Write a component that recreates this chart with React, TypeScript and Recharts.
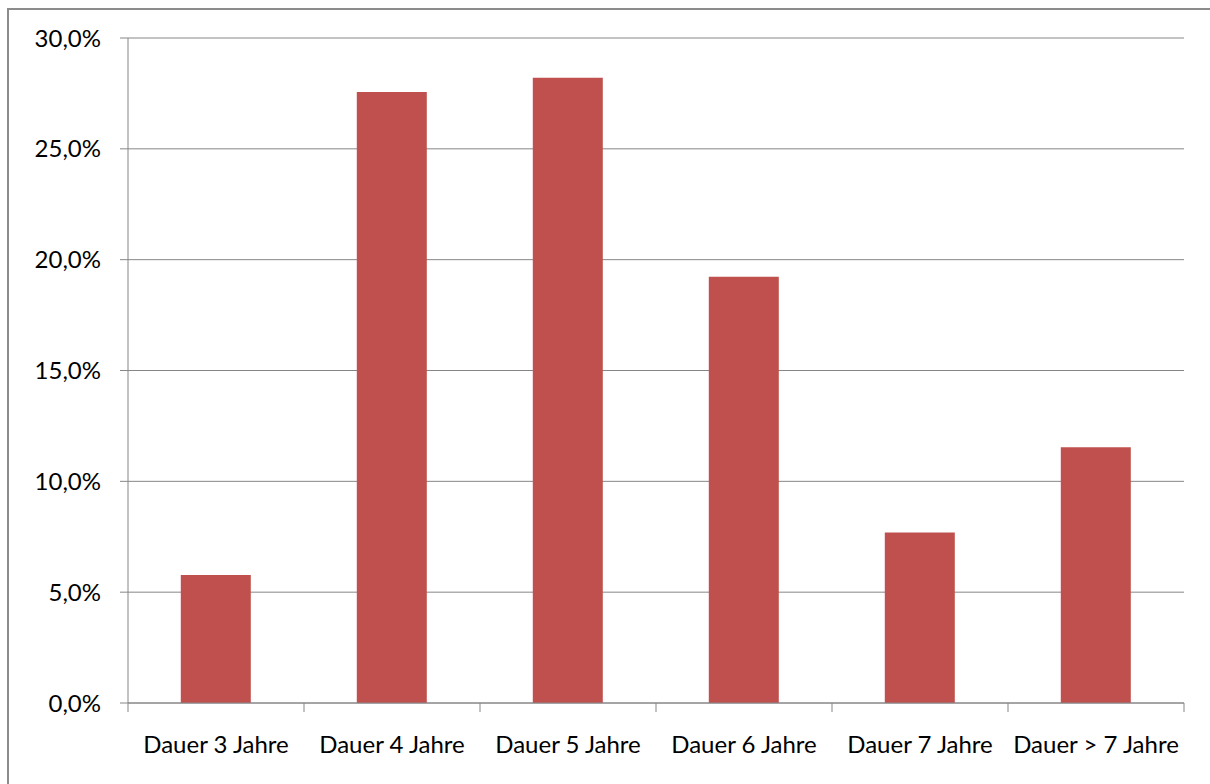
import React from 'react';
import { BarChart, Bar, XAxis, YAxis, CartesianGrid } from 'recharts';

const categories = ['Dauer 3 Jahre', 'Dauer 4 Jahre', 'Dauer 5 Jahre', 'Dauer 6 Jahre', 'Dauer 7 Jahre', 'Dauer > 7 Jahre'];
const shares = [5.77, 27.56, 28.21, 19.23, 7.69, 11.54];
const yTicks = [0, 5, 10, 15, 20, 25, 30];

const data = categories.map((name, i) => ({ name, value: shares[i] }));

const FONT = 'Lato, "Open Sans", sans-serif';
const AXIS = '#868686';
const X_TICK_SIZE = 9;
const X_TICK_MARGIN = 24;

const fmt = (v: number) => v.toFixed(1).replace('.', ',') + '%';

const CategoryTick = (props: any) => {
  const { x, y, payload, index, visibleTicksCount } = props;
  const half = payload && payload.offset ? payload.offset : 0;
  const axisY = y - X_TICK_SIZE - X_TICK_MARGIN;
  const left = x - half;
  const right = x + half;
  return (
    <g>
      <line x1={left} x2={left} y1={axisY} y2={axisY + X_TICK_SIZE} stroke={AXIS} />
      {index === visibleTicksCount - 1 && (
        <line x1={right} x2={right} y1={axisY} y2={axisY + X_TICK_SIZE} stroke={AXIS} />
      )}
      <text x={x} y={y} dy="0.71em" textAnchor="middle" fill="#000" fontSize={24} fontFamily={FONT}>
        {payload.value}
      </text>
    </g>
  );
};

export default function App() {
  return (
    <div style={{ position: 'absolute', left: 0, top: 0, width: 1210, height: 784, overflow: 'hidden', background: '#fff' }}>
      <div style={{ position: 'absolute', left: 7, top: 8, width: 1400, height: 1000, border: '2px solid #8c8c8c', boxSizing: 'border-box' }} />
      <div style={{ position: 'absolute', left: 0, top: 0 }}>
        <BarChart width={1210} height={784} data={data} margin={{ top: 38, right: 26, bottom: 31, left: 28 }} barCategoryGap="30%">
          <CartesianGrid vertical={false} stroke={AXIS} strokeWidth={1} />
          <XAxis
            dataKey="name"
            height={50}
            axisLine={{ stroke: AXIS }}
            tickLine={false}
            tickSize={X_TICK_SIZE}
            tickMargin={X_TICK_MARGIN}
            interval={0}
            tick={<CategoryTick />}
          />
          <YAxis
            width={100}
            domain={[0, 30]}
            ticks={yTicks}
            tickFormatter={fmt}
            axisLine={{ stroke: AXIS }}
            tickLine={{ stroke: AXIS }}
            tickSize={8}
            tickMargin={19}
            tick={{ fill: '#000', fontSize: 24, fontFamily: FONT }}
          />
          <Bar dataKey="value" fill="#C0504D" isAnimationActive={false} />
        </BarChart>
      </div>
    </div>
  );
}
